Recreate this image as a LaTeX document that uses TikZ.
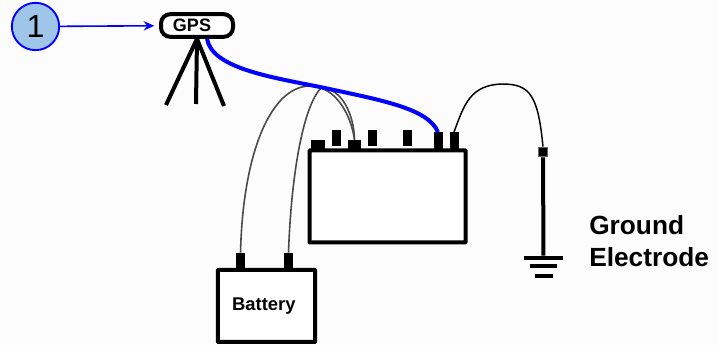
\documentclass[tikz,border=0pt]{standalone}
\usepackage{fontspec}
\setmainfont{Liberation Sans}
\usepackage{xcolor}
\usetikzlibrary{arrows.meta}
\definecolor{bluefill}{HTML}{9FC5E8}
\definecolor{wiregray}{HTML}{4A4A4A}
\definecolor{paper}{HTML}{FCFCFC}
\begin{document}
\begin{tikzpicture}[x=0.75pt, y=-0.75pt, >=stealth]
  \tikzstyle{box}=[rectangle, draw, line width=3pt, fill=white, rounded corners=0.5pt, inner sep=0pt, font=\bfseries]
  \tikzstyle{tallpost}=[rectangle, fill=black, inner sep=0pt, minimum width=6.75pt, minimum height=12pt]
  \tikzstyle{flatpost}=[rectangle, fill=black, inner sep=0pt, minimum width=10pt, minimum height=7pt]
  \tikzstyle{bar}=[rectangle, fill=black, inner sep=0pt, minimum height=3pt]
  \tikzstyle{leg}=[line width=3pt]
  \tikzstyle{graywire}=[draw=wiregray, line width=1.2pt]
  \fill[paper] (0,0) rectangle (719,345);
  \useasboundingbox (0,0) rectangle (719,345);
  % callout
  \node[circle, draw=blue, fill=bluefill, line width=1.4pt, minimum size=35.5pt, inner sep=0pt, font=\fontsize{24}{24}\selectfont] (one) at (35.5,26.5) {1};
  \node[box, rounded corners=7pt, minimum width=54pt, minimum height=17pt, font=\bfseries\fontsize{13.5}{13.5}\selectfont] (gps) at (197,25.5) {GPS\hspace*{7.5pt}};
  \draw[-{Stealth[length=8pt,width=7pt]}, draw=blue, line width=1.2pt, shorten >=3.5pt] (one) -- (gps);
  % tripod
  \coordinate (legl) at (166,105);
  \coordinate (legm) at (196,104);
  \coordinate (legr) at (224,106);
  \draw[leg] (gps.south) -- (legl);
  \draw[leg] (gps.south) -- (legm);
  \draw[leg] (gps.south) -- (legr);
  % posts first, the boxes sit over their feet
  \node[flatpost] (p1) at (318,145) {};
  \node[tallpost] (p2) at (336.5,138) {};
  \node[flatpost] (p3) at (354.5,144.5) {};
  \node[tallpost] (p4) at (372.5,138) {};
  \node[tallpost] (p5) at (407,138) {};
  \node[tallpost, minimum height=13pt] (p6) at (438,141) {};
  \node[tallpost, minimum height=13pt] (p7) at (454,141) {};
  \node[tallpost] (b1) at (240.5,261) {};
  \node[tallpost] (b2) at (288.5,261) {};
  \node[box, minimum width=117pt, minimum height=69pt] (logger) at (387.5,196.5) {};
  \node[box, minimum width=73pt, minimum height=54pt, font=\bfseries\fontsize{13.8}{13.8}\selectfont] (battery) at (266.5,306) {Battery\hspace*{4pt}};
  % wires
  \draw[graywire] (b1.north) .. controls (243,150) and (272,86) .. (310,86) .. controls (333,86) and (350,110) .. (p3.north);
  \draw[graywire] (b2.north) .. controls (291,180) and (302,108) .. (321,88) .. controls (342,88) and (354,115) .. (p3.north);
  \draw[draw=blue, line width=3pt] ([xshift=7.5pt]gps.south) .. controls (212,68) and (270,77) .. (320,87) .. controls (380,100) and (428,108) .. (p6.north);
  \node[rectangle, draw=black!60, fill=black, line width=1pt, inner sep=0pt, minimum size=7pt] (clamp) at (543,152) {};
  \draw[line width=1.1pt] (p7.north) .. controls (464,105) and (470,85) .. (502,84) .. controls (530,84) and (538,95) .. (clamp.north);
  % ground
  \node[bar, minimum width=29pt] (g1) at (543.5,258) {};
  \node[bar, minimum width=20pt] (g2) at (543.5,266.5) {};
  \node[bar, minimum width=13.5pt] (g3) at (543.5,276) {};
  \draw[line width=3pt] (clamp) -- (g1);
  \node[anchor=west, align=left, inner sep=0pt, font=\bfseries\fontsize{19.7}{24}\selectfont] (label) at (589,241) {Ground\\Electrode};
\end{tikzpicture}
\end{document}
